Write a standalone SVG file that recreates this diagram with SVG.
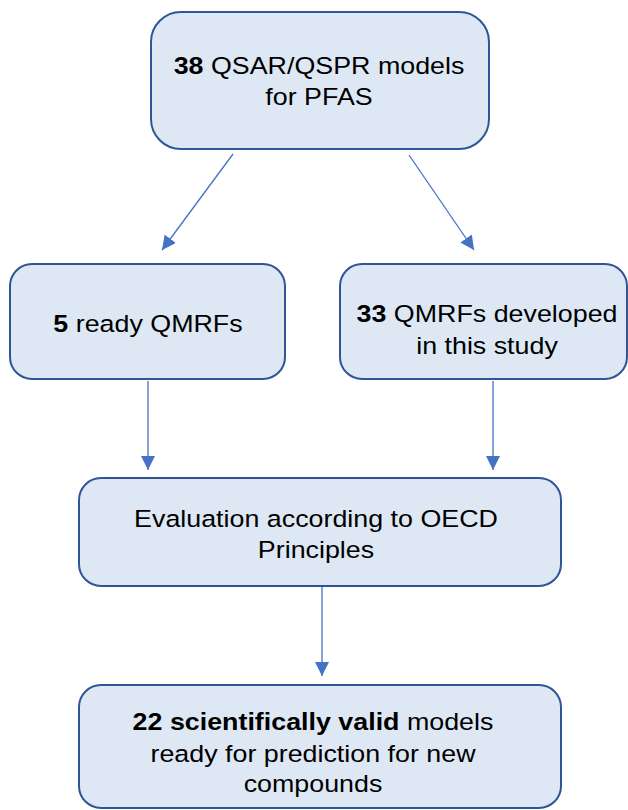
<svg xmlns="http://www.w3.org/2000/svg" width="628" height="810" viewBox="0 0 628 810">
  <style>
    .box { fill: #DEE8F4; stroke: #2F5597; stroke-width: 2; }
    .lbl { font-family: "Liberation Sans", Arial, sans-serif; font-size: 24.5px; fill: #000; text-anchor: middle; }
    .b { font-weight: bold; }
    .conn { stroke: #4472C4; stroke-width: 1.3; fill: none; marker-end: url(#arr); }
  </style>
  <defs>
    <marker id="arr" markerUnits="userSpaceOnUse" markerWidth="16" markerHeight="16" refX="14" refY="7" orient="auto">
      <path d="M0,0 L14,7 L0,14 Z" fill="#4472C4"/>
    </marker>
  </defs>
  <rect width="628" height="810" fill="#FFFFFF"/>

  <g id="connectors">
    <line class="conn" x1="233" y1="154" x2="162" y2="250"/>
    <line class="conn" x1="409" y1="155" x2="474" y2="250"/>
    <line class="conn" x1="148" y1="381" x2="148" y2="470"/>
    <line class="conn" x1="493" y1="381" x2="493" y2="470"/>
    <line class="conn" x1="322" y1="587" x2="322" y2="676"/>
  </g>

  <g id="node-models">
    <rect class="box" x="151" y="12" width="338" height="137" rx="30"/>
    <text class="lbl" transform="translate(319 74) scale(1.095 1)"><tspan class="b">38</tspan> QSAR/QSPR models</text>
    <text class="lbl" transform="translate(319 105) scale(1.095 1)">for PFAS</text>
  </g>

  <g id="node-ready">
    <rect class="box" x="10" y="264" width="275" height="115" rx="22"/>
    <text class="lbl" transform="translate(148 332) scale(1.095 1)"><tspan class="b">5</tspan> ready QMRFs</text>
  </g>

  <g id="node-developed">
    <rect class="box" x="340" y="264" width="287" height="115" rx="22"/>
    <text class="lbl" transform="translate(487 322) scale(1.095 1)"><tspan class="b">33</tspan> QMRFs developed</text>
    <text class="lbl" transform="translate(487 354) scale(1.095 1)">in this study</text>
  </g>

  <g id="node-evaluation">
    <rect class="box" x="79" y="478" width="482" height="108" rx="22"/>
    <text class="lbl" transform="translate(316 527) scale(1.095 1)">Evaluation according to OECD</text>
    <text class="lbl" transform="translate(316 558) scale(1.095 1)">Principles</text>
  </g>

  <g id="node-valid">
    <rect class="box" x="79" y="685" width="482" height="123" rx="22"/>
    <text class="lbl" transform="translate(313 730) scale(1.095 1)"><tspan class="b">22 scientifically valid</tspan> models</text>
    <text class="lbl" transform="translate(313 762) scale(1.095 1)">ready for prediction for new</text>
    <text class="lbl" transform="translate(313 792) scale(1.095 1)">compounds</text>
  </g>
</svg>
